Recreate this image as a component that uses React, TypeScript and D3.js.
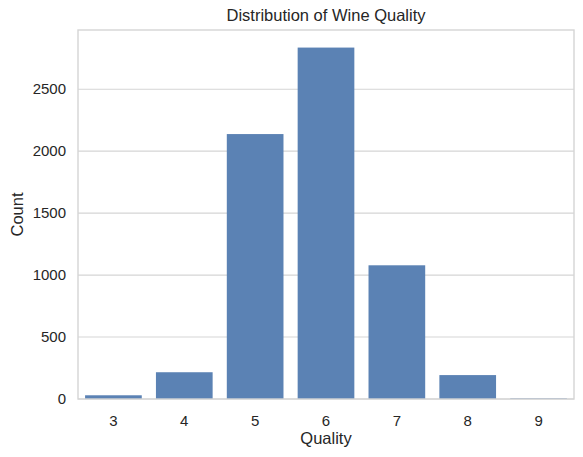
import React from "react";
import * as d3 from "d3";

const categories = ["3", "4", "5", "6", "7", "8", "9"];
const counts = [30, 216, 2138, 2836, 1079, 193, 5];
const yTicks = [0, 500, 1000, 1500, 2000, 2500];

const W = 583, H = 457;
const left = 78, right = 574, top = 30, bottom = 399;
const font = "Arial, 'Liberation Sans', sans-serif";

export default function App() {
  const x = d3.scaleBand<string>().domain(categories).range([left, right]).paddingInner(0.2).paddingOuter(0.1);
  const yMax = d3.max(counts)! * 1.05;
  const y = d3.scaleLinear().domain([0, yMax]).range([bottom, top]);
  const grid = "#d5d5d5";
  return (
    <svg width={W} height={H} style={{ position: "absolute", left: 0, top: 0 }}>
      <rect x={0} y={0} width={W} height={H} fill="#fff" />
      {yTicks.map((t) => (
        <g key={t}>
          <line x1={left} x2={right} y1={y(t)} y2={y(t)} stroke={grid} strokeWidth={1.1} />
          <text x={left - 12} y={y(t)} dy="0.35em" textAnchor="end" fontFamily={font} fontSize={15} fill="#262626">{t}</text>
        </g>
      ))}
      {categories.map((c, i) => (
        <g key={c}>
          <rect x={x(c)!} y={y(counts[i])} width={x.bandwidth()} height={bottom - y(counts[i])} fill="#5b82b4" />
          <text x={x(c)! + x.bandwidth() / 2} y={426} textAnchor="middle" fontFamily={font} fontSize={15} fill="#262626">{c}</text>
        </g>
      ))}
      <rect x={left} y={top} width={right - left} height={bottom - top} fill="none" stroke={grid} strokeWidth={1.4} />
      <text x={(left + right) / 2} y={21} textAnchor="middle" fontFamily={font} fontSize={16.5} fill="#262626">Distribution of Wine Quality</text>
      <text x={(left + right) / 2} y={444} textAnchor="middle" fontFamily={font} fontSize={16.5} fill="#262626">Quality</text>
      <text transform={`translate(23, ${(top + bottom) / 2}) rotate(-90)`} textAnchor="middle" fontFamily={font} fontSize={16.5} fill="#262626">Count</text>
    </svg>
  );
}
